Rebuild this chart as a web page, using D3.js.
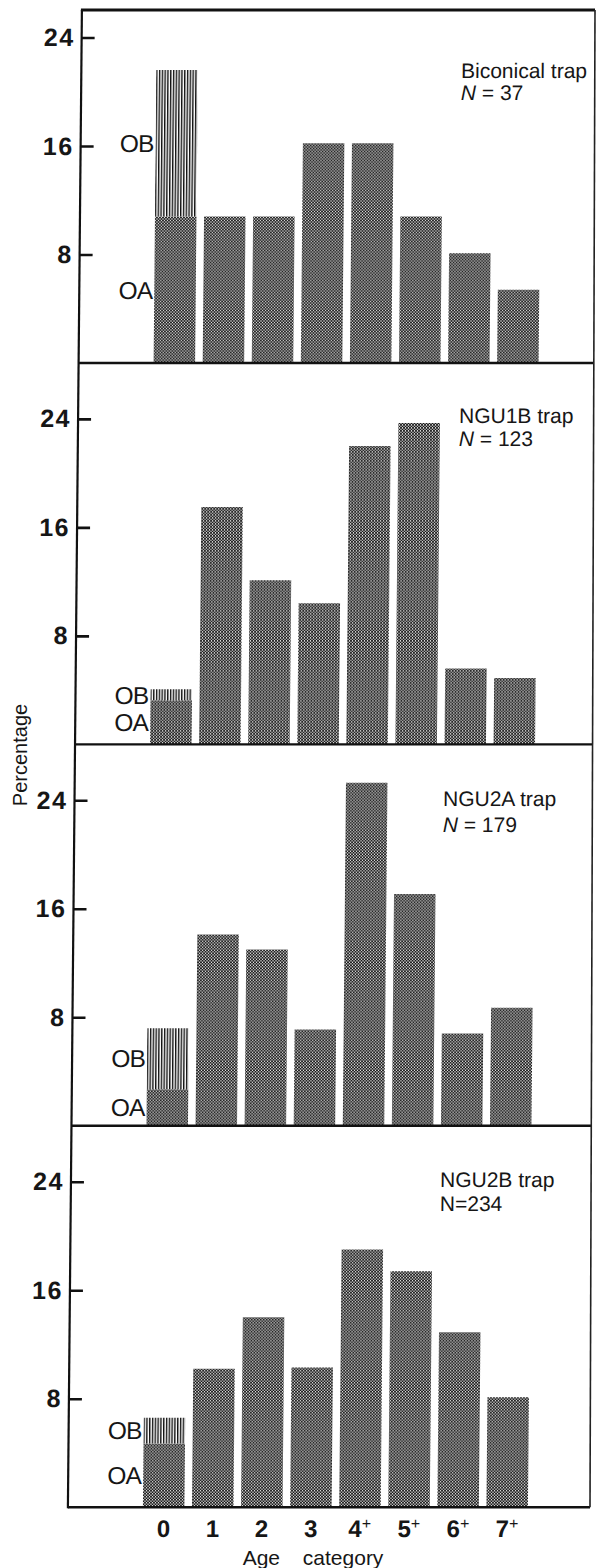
<!DOCTYPE html>
<html>
<head>
<meta charset="utf-8">
<script src="https://cdn.jsdelivr.net/npm/d3@7"></script>
<style>
  html, body { margin: 0; padding: 0; background: #fff; }
  svg { display: block; }
  text { font-family: "Liberation Sans", Arial, Helvetica, sans-serif; fill: #161616; }
</style>
</head>
<body>
<svg id="chart" width="596" height="1568"></svg>
<script>
// ---- data -------------------------------------------------------------
// Age classes along the horizontal axis ("+" = that age or older)
const ageClasses = ["0", "1", "2", "3", "4+", "5+", "6+", "7+"];
// One panel per trap type
const trapNames = ["Biconical trap", "NGU1B trap", "NGU2A trap", "NGU2B trap"];
const sampleLabels = ["N = 37", "N = 123", "N = 179", "N=234"];
// Percentage of the catch in each age class (class 0 = OA + OB together)
const pctBiconical = [21.6, 10.8, 10.8, 16.2, 16.2, 10.8, 8.1, 5.4];
const pctNGU1B     = [4.07, 17.5, 12.1, 10.4, 22.0, 23.7, 5.6, 4.9];
const pctNGU2A     = [7.2, 14.1, 13.0, 7.1, 25.3, 17.1, 6.8, 8.7];
const pctNGU2B     = [6.6, 10.2, 14.0, 10.3, 19.0, 17.4, 12.9, 8.1];
// Part of class 0 that is OA; the rest of the class-0 bar is OB
const oaClass0 = [10.8, 3.25, 2.7, 4.7];
const yTickValues = [8, 16, 24];

const panelSeries = [pctBiconical, pctNGU1B, pctNGU2A, pctNGU2B];

// ---- layout -----------------------------------------------------------
const firstBase = 363;     // baseline of the top panel
const panelStep = 381.4;   // distance between panel baselines
const frameTop = 10;
const axisX = 82;
const plot24 = 325.5;      // pixel height of the value 24
const slant = -14 / 1497;  // the whole figure leans slightly to the left
const skewDeg = Math.atan(slant) * 180 / Math.PI;
const bottomBase = firstBase + panelStep * 3;
// right frame edge (screen x) runs from 595 at the top to 590 at the bottom
const rightEdge = y => (595 - 5 * (y - frameTop) / (bottomBase - frameTop)) - slant * y;
const titleLayout = [
  { x: 461, dy: -285, gap: 22, italicN: true },
  { x: 459, dy: -321, gap: 23, italicN: true },
  { x: 443, dy: -320, gap: 26, italicN: true },
  { x: 440, dy: -320, gap: 24, italicN: false }
];

const svg = d3.select("#chart");
const defs = svg.append("defs");

// halftone screen used for OA and the older classes
const dots = defs.append("pattern")
  .attr("id", "halftone").attr("patternUnits", "userSpaceOnUse")
  .attr("width", 3).attr("height", 3);
dots.append("rect").attr("width", 3).attr("height", 3).attr("fill", "#161616");
[[0, 0], [3, 0], [0, 3], [3, 3], [1.5, 1.5]].forEach(([cx, cy]) =>
  dots.append("circle").attr("cx", cx).attr("cy", cy).attr("r", 0.68).attr("fill", "#fff"));

// vertical hatching used for OB
const hatch = defs.append("pattern")
  .attr("id", "hatch").attr("patternUnits", "userSpaceOnUse")
  .attr("width", 2.8).attr("height", 10);
hatch.append("rect").attr("width", 2.8).attr("height", 10).attr("fill", "#fff");
hatch.append("rect").attr("width", 1.4).attr("height", 10).attr("fill", "#111");

const fig = svg.append("g").attr("transform", `skewX(${skewDeg})`);

const x = d3.scaleBand()
  .domain(ageClasses)
  .range([157, 542])
  .paddingInner(0.155)
  .paddingOuter(0);

const y = d3.scaleLinear().domain([0, 24]).range([0, -plot24]);

panelSeries.forEach((values, i) => {
  const base = firstBase + panelStep * i;
  const pg = fig.append("g").attr("transform", `translate(0,${base})`);

  // bars
  const rows = ageClasses.map((c, j) => ({ cls: c, v: values[j], j }));
  pg.selectAll("rect.bar")
    .data(rows)
    .join("rect")
    .attr("class", "bar")
    .attr("x", d => x(d.cls))
    .attr("width", x.bandwidth())
    .attr("y", d => y(d.j === 0 ? oaClass0[i] : d.v))
    .attr("height", d => -y(d.j === 0 ? oaClass0[i] : d.v))
    .attr("fill", "url(#halftone)");

  // OB part of class 0, stacked on OA
  pg.append("rect")
    .attr("x", x(ageClasses[0]))
    .attr("width", x.bandwidth())
    .attr("y", y(values[0]))
    .attr("height", y(oaClass0[i]) - y(values[0]))
    .attr("fill", "url(#hatch)");

  // OA / OB labels beside the class-0 bar
  const segs = [
    { name: "OB", mid: (values[0] + oaClass0[i]) / 2 },
    { name: "OA", mid: oaClass0[i] / 2 }
  ];
  pg.selectAll("text.seg")
    .data(segs)
    .join("text")
    .attr("class", "seg")
    .attr("x", x(ageClasses[0]) - 2)
    .attr("y", d => y(d.mid))
    .attr("dy", "0.36em")
    .attr("text-anchor", "end")
    .attr("font-size", 24.5)
    .attr("letter-spacing", -0.8)
    .text(d => d.name);

  // y axis ticks and labels
  const ax = pg.append("g")
    .attr("transform", `translate(${axisX},0)`)
    .call(d3.axisLeft(y).tickValues(yTickValues).tickSize(-13).tickPadding(7));
  ax.attr("font-size", null).attr("font-family", null);
  ax.select(".domain").remove();
  ax.selectAll(".tick line").attr("stroke", "#111").attr("stroke-width", 2.6);
  ax.selectAll(".tick text")
    .attr("fill", "#161616")
    .attr("font-size", 25)
    .attr("font-weight", "bold")
    .attr("letter-spacing", 1.5);

  // trap name and sample size
  const tl = titleLayout[i];
  const ty = tl.dy;
  const tx = tl.x - slant * (base + ty);
  pg.append("text")
    .attr("x", tx).attr("y", ty)
    .attr("font-size", 21)
    .text(trapNames[i]);
  const nText = pg.append("text")
    .attr("x", tx).attr("y", ty + tl.gap)
    .attr("font-size", 21);
  const lbl = sampleLabels[i];
  if (tl.italicN) {
    nText.append("tspan").attr("font-style", "italic").text(lbl.slice(0, 1));
    nText.append("tspan").text(lbl.slice(1));
  } else {
    nText.text(lbl);
  }

  // baseline / panel divider
  pg.append("line")
    .attr("x1", axisX).attr("x2", rightEdge(base))
    .attr("y1", 0).attr("y2", 0)
    .attr("stroke", "#111").attr("stroke-width", 2.4);

  // age class labels under the bottom panel
  if (i === panelSeries.length - 1) {
    const xa = pg.append("g")
      .call(d3.axisBottom(x).tickSize(0).tickPadding(13));
    xa.attr("font-size", null).attr("font-family", null);
    xa.select(".domain").remove();
    xa.selectAll(".tick text")
      .attr("fill", "#161616")
      .attr("font-size", 24)
      .attr("font-weight", "bold")
      .each(function (d) {
        const t = d3.select(this);
        if (d.endsWith("+")) {
          t.text(d.slice(0, -1));
          t.append("tspan")
            .attr("dy", "-0.5em")
            .attr("font-size", 16)
            .attr("font-weight", "normal")
            .text("+");
        }
      });
  }
});

// frame: top edge, left axis line, right edge
fig.append("line")
  .attr("x1", axisX - 1).attr("x2", rightEdge(frameTop))
  .attr("y1", frameTop).attr("y2", frameTop)
  .attr("stroke", "#111").attr("stroke-width", 3);
fig.append("line")
  .attr("x1", axisX).attr("x2", axisX)
  .attr("y1", frameTop).attr("y2", bottomBase + 1)
  .attr("stroke", "#111").attr("stroke-width", 2.2);
fig.append("line")
  .attr("x1", rightEdge(frameTop)).attr("x2", rightEdge(bottomBase))
  .attr("y1", frameTop).attr("y2", bottomBase)
  .attr("stroke", "#222").attr("stroke-width", 1.6);

// axis titles
svg.append("text")
  .attr("transform", "translate(27,755) rotate(-90)")
  .attr("text-anchor", "middle")
  .attr("font-size", 20)
  .text("Percentage");

svg.append("text")
  .attr("x", 313).attr("y", 1565)
  .attr("text-anchor", "middle")
  .attr("font-size", 21)
  .attr("word-spacing", 17)
  .text("Age category");
</script>
</body>
</html>
